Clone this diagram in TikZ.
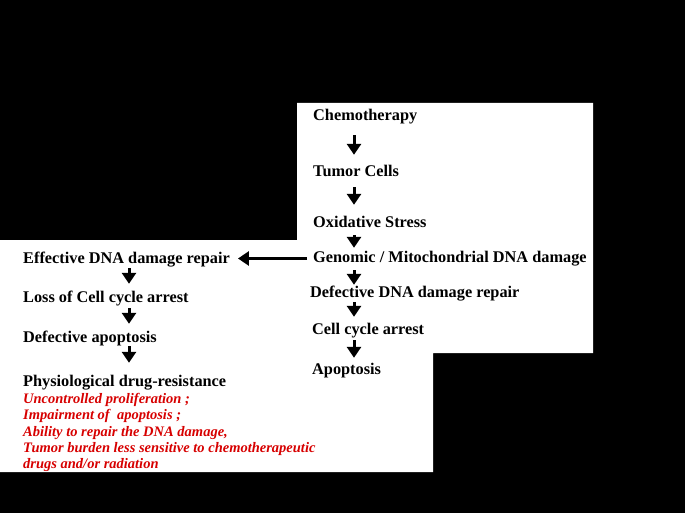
\documentclass[tikz,border=0pt]{standalone}
\usepackage{fontspec}
\setmainfont{Liberation Serif}
\usetikzlibrary{arrows.meta}
\definecolor{resred}{RGB}{215,0,0}

\begin{document}
\begin{tikzpicture}[x=1pt,y=-1pt,
	lbl/.style={anchor=base west,inner sep=0pt,text height=10pt,text depth=3pt,
		font=\fontsize{16.3}{18}\selectfont\bfseries},
	redtxt/.style={anchor=north west,inner sep=0pt,align=left,text=resred,
		font=\fontsize{14.5}{16.3}\selectfont\bfseries\itshape},
	arr/.style={line width=3pt,-{Triangle[width=14pt,length=11pt]}}]
	% background and white panel
	\fill[black] (0,0) rectangle (685,513);
	\fill[white] (0,240) -- (297,240) -- (297,103) -- (593,103) -- (593,353)
		-- (433,353) -- (433,472) -- (0,472) -- cycle;
	% right column
	\node[lbl] (chemo) at (313,121) {Chemotherapy};
	\node[lbl] (tumor) at (313,177) {Tumor Cells};
	\node[lbl] (oxid) at (313,227) {Oxidative Stress};
	\node[lbl] (genom) at (313,262) {Genomic / Mitochondrial DNA damage};
	\node[lbl] (defrep) at (310,297) {Defective DNA damage repair};
	\node[lbl] (arrest) at (312,334) {Cell cycle arrest};
	\node[lbl] (apop) at (312,374) {Apoptosis};
	% left column
	\node[lbl] (effrep) at (23,263) {Effective DNA damage repair};
	\node[lbl] (loss) at (23,302) {Loss of Cell cycle arrest};
	\node[lbl] (defapop) at (23,342) {Defective apoptosis};
	\node[lbl] (resist) at (23,386) {Physiological drug-resistance};
	\node[redtxt] (reasons) at (23,393) {Uncontrolled proliferation ;\\
		Impairment of~ apoptosis ;\\
		Ability to repair the DNA damage,\\
		Tumor burden less sensitive to chemotherapeutic\\
		drugs and/or radiation};
	% arrows
	\coordinate (rspine) at (354,0);
	\coordinate (lspine) at (129,0);
	\foreach \a/\b/\s/\e in {chemo/tumor/11/12, tumor/oxid/7/12, oxid/genom/5/4,
		genom/defrep/5/2, defrep/arrest/2/7, arrest/apop/3/6}
		\draw[arr,shorten <=\s pt,shorten >=\e pt] (\a.south -| rspine) -- (\b.north -| rspine);
	\foreach \a/\b/\s/\e in {effrep/loss/2/8, loss/defapop/3/8, defapop/resist/1/13}
		\draw[arr,shorten <=\s pt,shorten >=\e pt] (\a.south -| lspine) -- (\b.north -| lspine);
	\draw[arr,shorten <=6pt,shorten >=8pt] (genom.west) -- (genom.west -| effrep.east);
\end{tikzpicture}
\end{document}
